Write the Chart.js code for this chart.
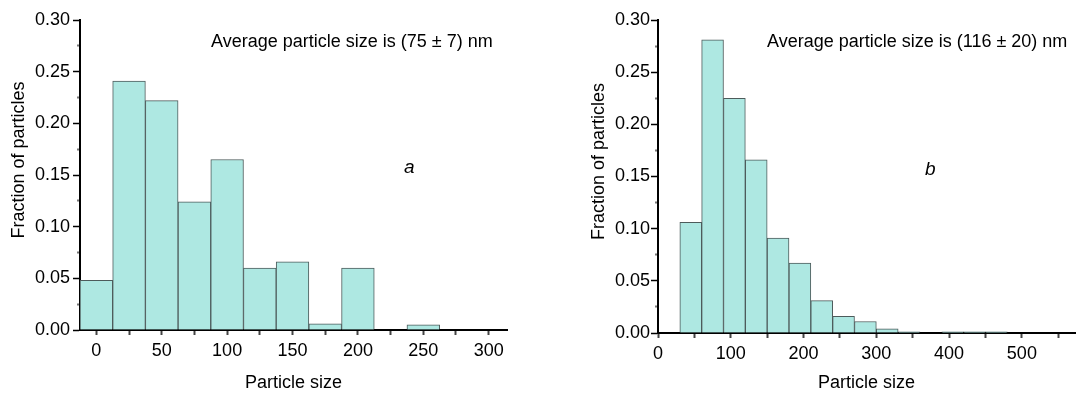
<!DOCTYPE html>
<html>
<head>
<meta charset="utf-8">
<script src="https://cdn.jsdelivr.net/npm/chart.js@4.4.1/dist/chart.umd.min.js"></script>
<style>
  html, body { margin: 0; padding: 0; background: #fff; }
  body { width: 1085px; height: 397px; position: relative; overflow: hidden; font-family: "Liberation Sans", Arial, sans-serif; }
  .panel { position: absolute; top: 0; height: 397px; }
  #panelA { left: 0; width: 540px; }
  #panelB { left: 580px; width: 505px; }
  .note { position: absolute; font-size: 18px; line-height: 1; color: #000; white-space: nowrap; }
  .tag { position: absolute; font-size: 19px; line-height: 1; font-style: italic; color: #000; }
</style>
</head>
<body>
<div class="panel" id="panelA"><canvas id="chartA"></canvas></div>
<div class="panel" id="panelB"><canvas id="chartB"></canvas></div>
<div class="note" style="left:211px; top:32px;">Average particle size is (75 ± 7) nm</div>
<div class="note" style="left:767px; top:32px;">Average particle size is (116 ± 20) nm</div>
<div class="tag" style="left:404px; top:157px;">a</div>
<div class="tag" style="left:925px; top:159px;">b</div>
<script>
// sample a: bin centres (nm) and fraction of particles, bin width 25
const sizesA = [0, 25, 50, 75, 100, 125, 150, 175, 200, 250];
const fractionsA = [0.048, 0.241, 0.222, 0.124, 0.165, 0.060, 0.066, 0.006, 0.060, 0.005];

// sample b: bin centres (nm), bin width 30
const sizesB = [45, 75, 105, 135, 165, 195, 225, 255, 285, 315, 345, 405, 435, 465];
const fractionsB = [0.106, 0.281, 0.225, 0.166, 0.091, 0.067, 0.031, 0.016, 0.011, 0.004, 0.0012, 0.0012, 0.0012, 0.0012];

const yTicks = { min: 0, max: 0.3, step: 0.025, labelEvery: 0.05 };
const xTicksA = { min: -12.5, max: 314, step: 25, labelEvery: 50 };
const xTicksB = { min: 0, max: 573, step: 50, labelEvery: 100 };

const font = { family: '"Liberation Sans", Arial, sans-serif', size: 18 };
const barFill = '#aee8e2';
const barEdge = '#4d5b5b';

function isMultiple(v, every) {
    return Math.abs(Math.round(v / every) * every - v) < 1e-6;
}

function makeChart(id, sizes, fractions, xt, sizing) {
    const ctx = document.getElementById(id);
    return new Chart(ctx, {
        type: 'bar',
        data: {
            datasets: [{
                data: sizes.map((x, i) => ({ x, y: fractions[i] })),
                backgroundColor: barFill,
                borderColor: barEdge,
                borderWidth: 1,
                borderSkipped: 'bottom',
                barPercentage: 1,
                categoryPercentage: 1
            }]
        },
        options: {
            responsive: false,
            animation: false,
            devicePixelRatio: 1,
            layout: { padding: { top: 20, right: sizing.right, bottom: 0, left: 0 } },
            plugins: { legend: { display: false }, tooltip: { enabled: false } },
            scales: {
                x: {
                    type: 'linear',
                    offset: false,
                    min: xt.min,
                    max: xt.max,
                    afterFit: s => { s.height = sizing.xHeight; },
                    grid: { drawOnChartArea: false, offset: false, tickLength: 5, tickWidth: 2, tickColor: '#444' },
                    border: { color: '#000', width: 2 },
                    ticks: {
                        stepSize: xt.step,
                        includeBounds: false,
                        autoSkip: false,
                        maxRotation: 0,
                        padding: 5,
                        color: '#000',
                        font,
                        callback: v => isMultiple(v, xt.labelEvery) ? String(v) : ''
                    },
                    title: { display: true, text: 'Particle size', color: '#000', font, padding: { top: 0, bottom: 3 } }
                },
                y: {
                    min: yTicks.min,
                    max: yTicks.max,
                    afterFit: s => { s.width = sizing.yWidth; },
                    grid: {
                        drawOnChartArea: false,
                        tickLength: 7,
                        tickWidth: c => isMultiple(c.tick.value, yTicks.labelEvery) ? 1.5 : 2,
                        tickColor: c => isMultiple(c.tick.value, yTicks.labelEvery) ? '#000' : '#777',
                        tickBorderDash: c => isMultiple(c.tick.value, yTicks.labelEvery) ? [] : [0, 4, 2, 10]
                    },
                    border: { color: '#000', width: 2 },
                    ticks: {
                        stepSize: yTicks.step,
                        includeBounds: false,
                        autoSkip: false,
                        padding: sizing.yPad,
                        color: '#000',
                        font,
                        callback: v => isMultiple(v, yTicks.labelEvery) ? v.toFixed(2) : ''
                    },
                    // leading spaces nudge the centred title up like in the original figure
                    title: { display: true, text: '      Fraction of particles', color: '#000', font, padding: { top: 8, bottom: 0 } }
                }
            }
        }
    });
}

document.getElementById('chartA').width = 540;
document.getElementById('chartA').height = 397;
document.getElementById('chartB').width = 505;
document.getElementById('chartB').height = 397;

makeChart('chartA', sizesA, fractionsA, xTicksA, { right: 33, xHeight: 67, yWidth: 80, yPad: 3 });
makeChart('chartB', sizesB, fractionsB, xTicksB, { right: 10, xHeight: 64, yWidth: 78, yPad: 1 });
</script>
</body>
</html>
